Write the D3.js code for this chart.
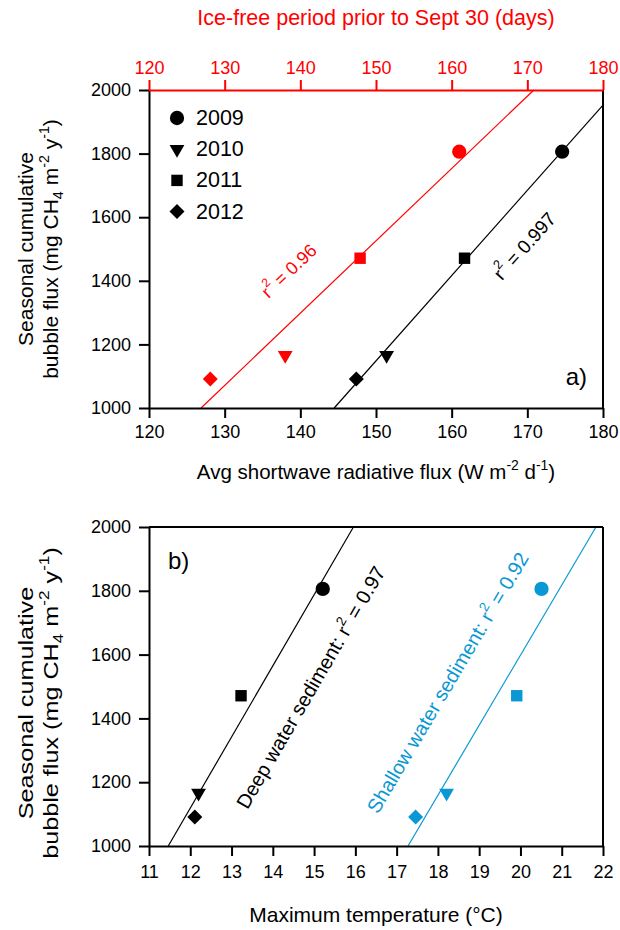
<!DOCTYPE html>
<html>
<head>
<meta charset="utf-8">
<script src="https://cdn.jsdelivr.net/npm/d3@7"></script>
<style>
  body { margin: 0; background: #fff; }
  text { font-family: "Liberation Sans", Arial, Helvetica, sans-serif; }
</style>
</head>
<body>
<div id="chart"></div>
<script>
// ---- data ----
const years = ["2009", "2010", "2011", "2012"];
const bubbleFlux = [1806, 1166, 1471, 1091];          // mg CH4 m-2 y-1
const shortwave = [174.6, 151.4, 161.7, 147.4];       // W m-2 d-1
const iceFreeDays = [161.0, 138.0, 147.9, 128.1];     // days
const deepTemp = [15.21, 12.2, 13.23, 12.11];         // deg C
const shallowTemp = [20.51, 18.21, 19.91, 17.46];     // deg C

const fluxTicks = [1000, 1200, 1400, 1600, 1800, 2000];
const swTicks = [120, 130, 140, 150, 160, 170, 180];
const dayTicks = [120, 130, 140, 150, 160, 170, 180];
const tempTicks = [11, 12, 13, 14, 15, 16, 17, 18, 19, 20, 21, 22];

// annotation anchor points (data units) for the r2 labels
const labelSw = [169.8, 1506];
const labelDays = [138.6, 1428];
const labelDeep = [14.96, 1494];
const labelShallow = [18.28, 1509];

const RED = "#ff0000";
const BLUE = "#0a98d4";

const W = 620, H = 930;
const svg = d3.select("#chart").append("svg")
  .attr("width", W).attr("height", H);

// ---- scales ----
const xSw = d3.scaleLinear().domain([120, 180]).range([149, 603]);
const xDays = d3.scaleLinear().domain([120, 180]).range([149, 603]);
const yA = d3.scaleLinear().domain([1000, 2000]).range([408, 90]);
const xT = d3.scaleLinear().domain([11, 22]).range([149, 603]);
const yB = d3.scaleLinear().domain([1000, 2000]).range([846, 527]);

// ---- helpers ----
function fit(xs, ys) {
  const mx = d3.mean(xs), my = d3.mean(ys);
  let sxy = 0, sxx = 0;
  xs.forEach((x, i) => { sxy += (x - mx) * (ys[i] - my); sxx += (x - mx) * (x - mx); });
  const m = sxy / sxx;
  return { m: m, b: my - m * mx };
}

// endpoints of fitted line clipped to the plot domain
function fitSegment(f, x, y) {
  const [x0, x1] = x.domain(), [y0, y1] = y.domain();
  const a = Math.max(x0, (y0 - f.b) / f.m);
  const c = Math.min(x1, (y1 - f.b) / f.m);
  return [[a, f.m * a + f.b], [c, f.m * c + f.b]];
}

function slopeAngle(f, x, y) {
  const dx = x(1) - x(0), dy = y(f.m) - y(0);
  return Math.atan2(dy, dx) * 180 / Math.PI;
}

// text with super/subscripts: parts = [[str, "n"|"sup"|"sub"], ...]
function rich(t, parts, fs) {
  let shift = 0;
  parts.forEach(([s, k]) => {
    const target = k === "sup" ? -0.42 * fs : k === "sub" ? 0.25 * fs : 0;
    t.append("tspan")
      .attr("dy", target - shift)
      .attr("font-size", k === "n" ? fs : fs * 0.68)
      .text(s);
    shift = target;
  });
}

const shapeOf = {
  "2009": { type: d3.symbolCircle, size: 160, rot: 0 },
  "2010": { type: d3.symbolTriangle, size: 95, rot: 180 },
  "2011": { type: d3.symbolSquare, size: 130, rot: 0 },
  "2012": { type: d3.symbolSquare, size: 112, rot: 45 }
};

function drawPoints(g, xs, ys, x, y, color) {
  g.selectAll(null)
    .data(years.map((yr, i) => ({ yr: yr, x: xs[i], y: ys[i] })))
    .join("path")
    .attr("d", d => d3.symbol().type(shapeOf[d.yr].type).size(shapeOf[d.yr].size)())
    .attr("transform", d => `translate(${x(d.x)},${y(d.y)}) rotate(${shapeOf[d.yr].rot})`)
    .attr("fill", color);
}

function drawFit(g, f, x, y, color) {
  const seg = fitSegment(f, x, y);
  g.append("line")
    .attr("x1", x(seg[0][0])).attr("y1", y(seg[0][1]))
    .attr("x2", x(seg[1][0])).attr("y2", y(seg[1][1]))
    .attr("stroke", color).attr("stroke-width", 1.2);
}

function fitLabel(g, pos, f, x, y, color, parts, fs) {
  const t = g.append("text")
    .attr("transform", `translate(${x(pos[0])},${y(pos[1])}) rotate(${slopeAngle(f, x, y)})`)
    .attr("text-anchor", "middle")
    .attr("dominant-baseline", "middle")
    .attr("fill", color);
  rich(t, parts, fs);
}

function styleAxis(g, color, fs) {
  g.select(".domain").attr("stroke", color).attr("stroke-width", 2);
  g.selectAll(".tick line").attr("stroke", color).attr("stroke-width", 2);
  g.selectAll(".tick text").attr("fill", color)
    .attr("font-size", fs)
    .attr("font-family", '"Liberation Sans", Arial, sans-serif');
}

// two-line rotated y title; stretch lengthens it along the text direction
function yTitle(cy, stretch) {
  const g = svg.append("g");
  g.append("text")
    .attr("transform", `translate(33,${cy}) rotate(-90) scale(${stretch},1)`)
    .attr("text-anchor", "middle").attr("font-size", 21)
    .text("Seasonal cumulative");
  const t = g.append("text")
    .attr("transform", `translate(58,${cy}) rotate(-90) scale(${stretch},1)`)
    .attr("text-anchor", "middle");
  rich(t, [["bubble flux (mg CH", "n"], ["4", "sub"], [" m", "n"], ["-2", "sup"],
           [" y", "n"], ["-1", "sup"], [")", "n"]], 21);
}

const fmt = d3.format("d");

// ================= panel a =================
const gA = svg.append("g");
const fSw = fit(shortwave, bubbleFlux);
const fDays = fit(iceFreeDays, bubbleFlux);

drawFit(gA, fDays, xDays, yA, RED);
drawFit(gA, fSw, xSw, yA, "#000");
drawPoints(gA, iceFreeDays, bubbleFlux, xDays, yA, RED);
drawPoints(gA, shortwave, bubbleFlux, xSw, yA, "#000");

fitLabel(gA, labelDays, fDays, xDays, yA, RED, [["r", "n"], ["2", "sup"], [" = 0.96", "n"]], 18);
fitLabel(gA, labelSw, fSw, xSw, yA, "#000", [["r", "n"], ["2", "sup"], [" = 0.997", "n"]], 19);

// right frame line
gA.append("line").attr("x1", 603).attr("x2", 603).attr("y1", 90).attr("y2", 408)
  .attr("stroke", "#000").attr("stroke-width", 2);

const axBotA = gA.append("g").attr("transform", "translate(0,408)")
  .call(d3.axisBottom(xSw).tickValues(swTicks).tickFormat(fmt).tickSize(10).tickSizeOuter(0).tickPadding(7));
styleAxis(axBotA, "#000", 18);
const axLeftA = gA.append("g").attr("transform", "translate(149,0)")
  .call(d3.axisLeft(yA).tickValues(fluxTicks).tickFormat(fmt).tickSize(10).tickSizeOuter(0).tickPadding(8));
styleAxis(axLeftA, "#000", 18);
const axTopA = gA.append("g").attr("transform", "translate(0,90)")
  .call(d3.axisTop(xDays).tickValues(dayTicks).tickFormat(fmt).tickSize(10).tickSizeOuter(0).tickPadding(6));
styleAxis(axTopA, RED, 18);

// legend
const leg = gA.append("g");
years.forEach((yr, i) => {
  const ly = 118 + i * 31.2;
  leg.append("path")
    .attr("d", d3.symbol().type(shapeOf[yr].type).size(shapeOf[yr].size)())
    .attr("transform", `translate(177,${ly}) rotate(${shapeOf[yr].rot})`);
  leg.append("text").attr("x", 196).attr("y", ly)
    .attr("dominant-baseline", "central").attr("font-size", 21.5).text(yr);
});

gA.append("text").attr("x", 587).attr("y", 385).attr("text-anchor", "end")
  .attr("font-size", 24).text("a)");

gA.append("text").attr("x", 376).attr("y", 25).attr("text-anchor", "middle")
  .attr("font-size", 21.5).attr("fill", RED).text("Ice-free period prior to Sept 30 (days)");

const tA = gA.append("text").attr("x", 376).attr("y", 479).attr("text-anchor", "middle");
rich(tA, [["Avg shortwave radiative flux (W m", "n"], ["-2", "sup"], [" d", "n"], ["-1", "sup"], [")", "n"]], 20.5);

yTitle(249, 1);

// ================= panel b =================
const gB = svg.append("g");
const fDeep = fit(deepTemp, bubbleFlux);
const fShallow = fit(shallowTemp, bubbleFlux);

drawFit(gB, fDeep, xT, yB, "#000");
drawFit(gB, fShallow, xT, yB, BLUE);
drawPoints(gB, deepTemp, bubbleFlux, xT, yB, "#000");
drawPoints(gB, shallowTemp, bubbleFlux, xT, yB, BLUE);

fitLabel(gB, labelDeep, fDeep, xT, yB, "#000",
  [["Deep water sediment: r", "n"], ["2", "sup"], [" = 0.97", "n"]], 20);
fitLabel(gB, labelShallow, fShallow, xT, yB, BLUE,
  [["Shallow water sediment: r", "n"], ["2", "sup"], [" = 0.92", "n"]], 20);

gB.append("line").attr("x1", 149).attr("x2", 603).attr("y1", 527).attr("y2", 527)
  .attr("stroke", "#000").attr("stroke-width", 2);
gB.append("line").attr("x1", 603).attr("x2", 603).attr("y1", 527).attr("y2", 846)
  .attr("stroke", "#000").attr("stroke-width", 2);

const axBotB = gB.append("g").attr("transform", "translate(0,846)")
  .call(d3.axisBottom(xT).tickValues(tempTicks).tickFormat(fmt).tickSize(10).tickSizeOuter(0).tickPadding(9));
styleAxis(axBotB, "#000", 18);
const axLeftB = gB.append("g").attr("transform", "translate(149,0)")
  .call(d3.axisLeft(yB).tickValues(fluxTicks).tickFormat(fmt).tickSize(10).tickSizeOuter(0).tickPadding(8));
styleAxis(axLeftB, "#000", 18);

gB.append("text").attr("x", 168).attr("y", 569).attr("font-size", 24).text("b)");

gB.append("text").attr("x", 376).attr("y", 922).attr("text-anchor", "middle")
  .attr("font-size", 21).text("Maximum temperature (°C)");

yTitle(703, 1.2);
</script>
</body>
</html>
